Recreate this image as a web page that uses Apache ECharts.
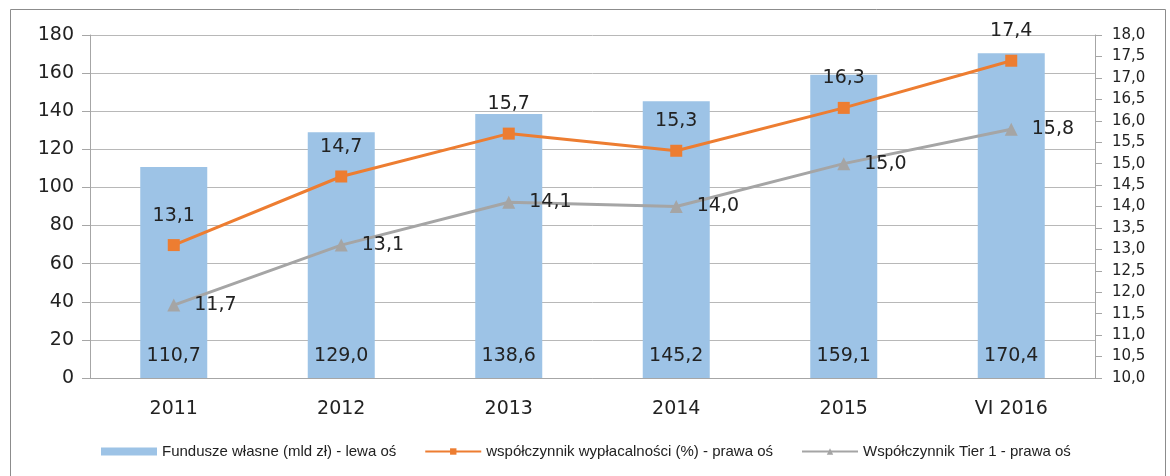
<!DOCTYPE html>
<html>
<head>
<meta charset="utf-8">
<script src="https://cdn.jsdelivr.net/npm/echarts@6/dist/echarts.min.js"></script>
<style>
  html, body { margin: 0; padding: 0; background: #fff; }
</style>
</head>
<body>
<div id="chart" style="width: 1170px; height: 476px;"></div>
<script>
const years = ['2011', '2012', '2013', '2014', '2015', 'VI 2016']
const fundusze = [110.7, 129.0, 138.6, 145.2, 159.1, 170.4]
const wyplacalnosc = [13.1, 14.7, 15.7, 15.3, 16.3, 17.4]
const tier1 = [11.7, 13.1, 14.1, 14.0, 15.0, 15.8]

const comma = v => v.toFixed(1).replace('.', ',')
const font = 'DejaVu Sans'

const chart = echarts.init(document.getElementById('chart'))
chart.setOption({
  animation: false,
  textStyle: { fontFamily: font },
  graphic: [{
    type: 'rect',
    shape: { x: 10.5, y: 9.5, width: 1155, height: 480 },
    style: { fill: 'none', stroke: '#8c8c8c', lineWidth: 1 },
    silent: true
  }],
  grid: { left: 90, right: 75, top: 35, bottom: 98 },
  legend: {
    bottom: 12,
    left: 96,
    itemGap: 28,
    itemWidth: 56,
    itemHeight: 8,
    textStyle: { fontFamily: 'Liberation Sans Narrow, Liberation Sans', fontSize: 15, color: '#222' },
    data: [
      { name: 'Fundusze własne (mld zł) - lewa oś', icon: 'rect' },
      'współczynnik wypłacalności (%) - prawa oś',
      'Współczynnik Tier 1 - prawa oś'
    ]
  },
  xAxis: {
    type: 'category',
    data: years,
    axisLine: { lineStyle: { color: '#a6a6a6' } },
    axisTick: { length: 7, lineStyle: { color: '#a6a6a6' } },
    axisLabel: { fontSize: 19, color: '#222', margin: 22 }
  },
  yAxis: [{
    type: 'value',
    min: 0,
    max: 180,
    interval: 20,
    axisLine: { show: true, lineStyle: { color: '#a6a6a6' } },
    axisTick: { show: true, length: 8, lineStyle: { color: '#a6a6a6' } },
    axisLabel: { fontSize: 19, color: '#222', margin: 16 },
    splitLine: { lineStyle: { color: '#b8b8b8' } }
  }, {
    type: 'value',
    min: 10,
    max: 18,
    interval: 0.5,
    position: 'right',
    axisLine: { show: true, lineStyle: { color: '#a6a6a6' } },
    axisTick: { show: true, length: 7, lineStyle: { color: '#a6a6a6' } },
    axisLabel: { fontSize: 15, color: '#222', margin: 17, formatter: comma },
    splitLine: { show: false }
  }],
  series: [{
    name: 'Fundusze własne (mld zł) - lewa oś',
    type: 'bar',
    data: fundusze,
    barWidth: 67,
    itemStyle: { color: '#9dc3e6' },
    label: {
      show: true,
      position: 'insideBottom',
      distance: 12,
      fontSize: 19,
      color: '#222',
      formatter: p => comma(p.value)
    }
  }, {
    name: 'współczynnik wypłacalności (%) - prawa oś',
    type: 'line',
    yAxisIndex: 1,
    data: wyplacalnosc,
    symbol: 'rect',
    symbolSize: 12,
    lineStyle: { color: '#ed7d31', width: 3 },
    itemStyle: { color: '#ed7d31' },
    label: {
      show: true,
      position: 'top',
      distance: 14,
      fontSize: 19,
      color: '#222',
      formatter: p => comma(p.value)
    }
  }, {
    name: 'Współczynnik Tier 1 - prawa oś',
    type: 'line',
    yAxisIndex: 1,
    data: tier1,
    symbol: 'triangle',
    symbolSize: 13,
    lineStyle: { color: '#a5a5a5', width: 3 },
    itemStyle: { color: '#a5a5a5' },
    label: {
      show: true,
      position: 'right',
      distance: 14,
      fontSize: 19,
      color: '#222',
      formatter: p => comma(p.value)
    }
  }]
})
</script>
</body>
</html>
